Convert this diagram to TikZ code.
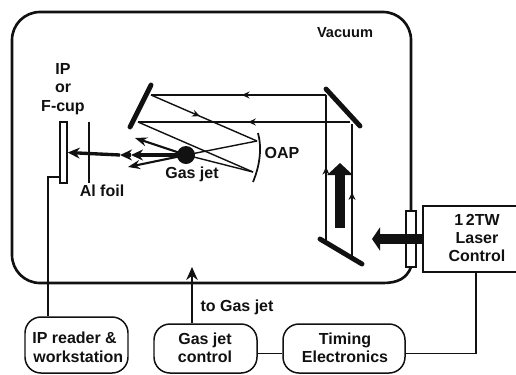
\documentclass[tikz,border=0pt]{standalone}
\usepackage{fontspec}
\newfontfamily\lblfont{Liberation Sans Bold}
\usepackage{xcolor}
\usetikzlibrary{arrows.meta,decorations.markings}
\definecolor{inkblack}{HTML}{111111}
\tikzset{
  lbl/.style={inner sep=0pt,align=center,font=\lblfont\fontsize{9.1}{10.4}\selectfont,text=inkblack},
  ctlbox/.style={draw=inkblack,line width=0.85pt,rounded corners=3.2mm,inner sep=0pt},
  lasbox/.style={draw=inkblack,line width=1pt,inner sep=0pt},
  wire/.style={draw=inkblack,line width=1.1pt},
  mirror/.style={draw=inkblack,line width=2.8pt,line cap=round},
  ray/.style={draw=inkblack,line width=0.8pt},
  tipat/.style={postaction={decorate},decoration={markings,mark=at position #1 with {\arrow{Stealth[length=1.5mm,width=1.4mm]}}}},
  strongray/.style={draw=inkblack,line width=1.2pt,-{Stealth[length=2.4mm,width=1.8mm]}},
  jetray/.style={draw=inkblack,line width=1.9pt,-{Stealth[length=2.4mm,width=2.2mm]}},
  bigarrow/.style={draw=inkblack,line width=5.4pt,-{Triangle[length=#1,width=4.6mm]}},
  platebox/.style={draw=inkblack,line width=0.9pt,fill=white,inner sep=0pt},
}
\begin{document}
\begin{tikzpicture}[x=0.2mm,y=-0.2mm]
  \useasboundingbox (0,0) rectangle (516,374);
  \begin{scope}
    \clip (0,0) rectangle (516,374);
  % chamber
  \draw[inkblack,line width=1.5pt] (411,211) -- (411,40) arc[start angle=0,end angle=90,x radius=28,y radius=-28]
    -- (40,12) arc[start angle=90,end angle=180,x radius=28,y radius=-28]
    -- (12,255) arc[start angle=180,end angle=270,x radius=28,y radius=-28]
    -- (383,283) .. controls (398,283) and (407,278) .. (411,267);
  \node[lbl,font=\lblfont\fontsize{8.3}{10}\selectfont] (nVac) at (345,33) {Vacuum};
  % beam
  \coordinate (m1a) at (151,85);
  \coordinate (m1b) at (130,127);
  \coordinate (m2a) at (326,89);
  \coordinate (m2b) at (360,126);
  \coordinate (m3a) at (320,239);
  \coordinate (m3b) at (362,264);
  \coordinate (r1a) at (326,95);
  \coordinate (r1b) at (151,95);
  \coordinate (r2a) at (350,122);
  \coordinate (r2b) at (138,122);
  \coordinate (r3a) at (326,242);
  \coordinate (r4a) at (352,258);
  \coordinate (r4b) at (352,124);
  \coordinate (oapa) at (257,141);
  \coordinate (oapb) at (253,172);
  \coordinate (oapt) at (258,133);
  \coordinate (oapl) at (253,182);
  \coordinate (s1) at (135,138);
  \coordinate (s2) at (128,167);
  \draw[ray,tipat=0.51] (r3a) -- (r1a);
  \draw[ray,tipat=0.49] (r4a) -- (r4b);
  \draw[ray,tipat=0.48] (r1a) -- (r1b);
  \draw[ray,tipat=0.48] (r2a) -- (r2b);
  \draw[ray,tipat=0.46] (r1b) -- (oapa);
  \draw[ray] (oapb) -- (r2b);
  \draw[mirror] (m1a) -- (m1b);
  \draw[mirror] (m2a) -- (m2b);
  \draw[mirror] (m3a) -- (m3b);
  \draw[inkblack,line width=1pt] (oapt) .. controls (262,148) and (260,165) .. (oapl);
  \node[circle,fill=inkblack,minimum size=3.6mm,inner sep=0pt] (nJet) at (186,155) {};
  \draw[ray] (oapa) -- (nJet.center);
  \draw[ray] (oapb) -- (nJet.center);
  \draw[strongray] (nJet.center) -- (s1);
  \draw[strongray] (nJet.center) -- (s2);
  % detector
  \node[platebox,minimum width=1.4mm,minimum height=12.2mm] (nPlate) at (63.5,152.5) {};
  \draw[inkblack,line width=0.9pt] (89,122) -- (89,183);
  \coordinate (jetl) at (120,155);
  \coordinate (jetm) at (131,155);
  \draw[jetray] (nJet.center) -- (jetm);
  \draw[jetray] (jetm) -- (jetl);
  \draw[jetray] (jetl) -- (nPlate.east);
  \node[lbl] (nIP) at (63,89) {IP\\or\\F-cup};
  \node[lbl] (nFoil) at (102,191) {Al foil};
  \node[lbl] (nGas) at (192,174) {Gas jet};
  \node[lbl] (nOAP) at (282,153) {OAP};
  % big arrows
  \coordinate (upt) at (340,228);
  \coordinate (uph) at (340,163);
  \draw[bigarrow=2.4mm,-{Triangle[length=2.4mm,width=5mm]}] (upt) -- (uph);
  \node[platebox,minimum width=2mm,minimum height=11.2mm] (nWin) at (411,239) {};
  \node[lasbox,minimum width=22mm,minimum height=13.2mm] (nLaser) at (478,239) {};
  \node[lbl] (nLaserT) at (477,238) {1\,2TW\\Laser\\Control};
  \coordinate (lft) at (372,239);
  \draw[bigarrow=1.6mm] (nLaser.west) -- (lft);
  % control boxes
  \node[ctlbox,minimum width=20.6mm,minimum height=11.2mm] (nRead) at (76.5,345) {};
  \node[ctlbox,minimum width=20.6mm,minimum height=9.8mm] (nCtl) at (205.5,348.5) {};
  \node[ctlbox,minimum width=24.4mm,minimum height=9.8mm] (nTim) at (344,348.5) {};
  \node[lbl,anchor=west] (nReadT) at (32,338) {IP reader \&};
  \node[lbl,anchor=west] (nReadB) at (33,357) {workstation};
  \node[lbl] (nCtlT) at (205,348) {Gas jet\\control};
  \node[lbl] (nTimT) at (345,348) {Timing\\Electronics};
  \node[lbl] (nTo) at (237,307) {to Gas jet};
  \coordinate (ctlup) at (192,267);
  \coordinate (readup) at (48,177);
  \coordinate (lasout) at (476,272);
  \draw[wire] (nPlate.west |- readup) -- (readup) -- (readup |- nRead.north);
  \draw[inkblack,line width=1.1pt,-{Stealth[length=2.6mm,width=2.3mm]}] (ctlup |- nCtl.north) -- (ctlup);
  \draw[wire] ([yshift=-1mm]nCtl.east) -- ([yshift=-1mm]nTim.west);
  \draw[wire] ([yshift=-1mm]nTim.east) -| (lasout);
  \end{scope}
\end{tikzpicture}
\end{document}
